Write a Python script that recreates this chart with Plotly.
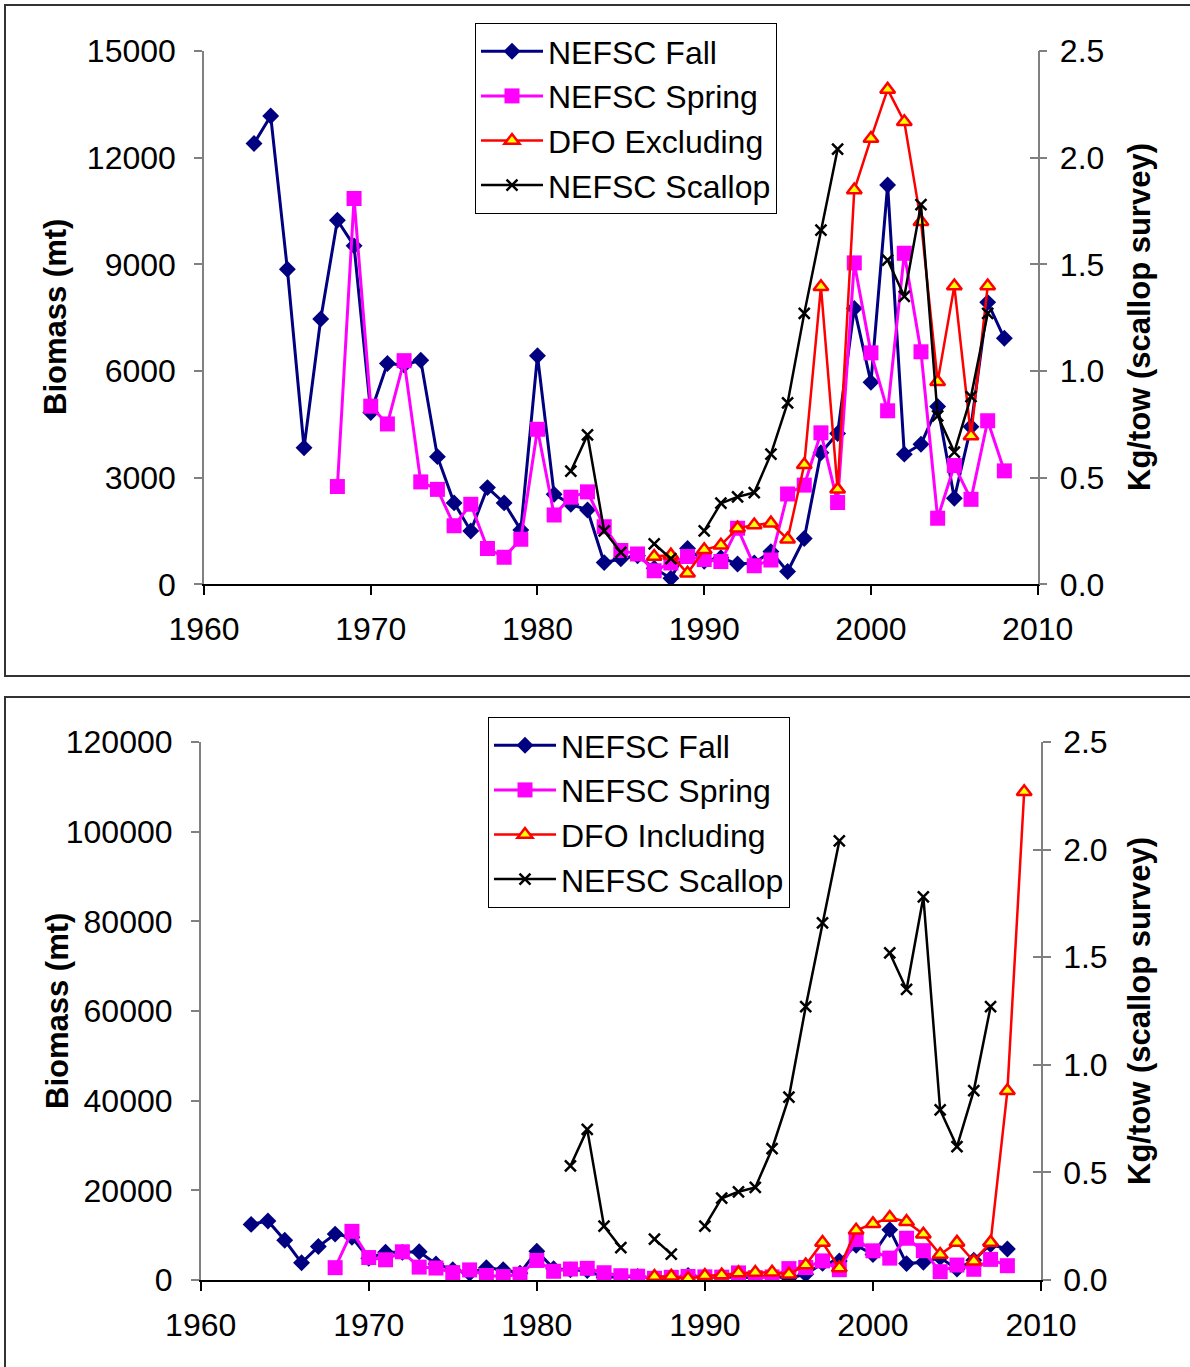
import plotly.graph_objects as go

# ---- survey data -------------------------------------------------------
fall_years = list(range(1963, 2009))
fall_mt = [12400, 13170, 8860, 3840, 7460, 10240, 9520, 4830, 6210, 6170,
           6300, 3590, 2290, 1500, 2720, 2290, 1530, 6430, 2530, 2250,
           2090, 610, 720, 800, 450, 170, 1010, 650, 750, 570,
           600, 920, 360, 1290, 3700, 4240, 7760, 5680, 11230, 3660,
           3940, 5000, 2420, 4430, 7930, 6920]

spring_years = list(range(1968, 2009))
spring_mt = [2750, 10850, 5010, 4510, 6290, 2880, 2670, 1650, 2250, 1010,
             760, 1270, 4360, 1950, 2450, 2600, 1620, 950, 850, 380,
             600, 780, 700, 640, 1580, 520, 680, 2540, 2790, 4260,
             2300, 9040, 6510, 4880, 9310, 6540, 1860, 3340, 2390, 4600,
             3190]

dfo_excl_years = list(range(1987, 2008))
dfo_excl_mt = [780, 820, 310, 970, 1100, 1580, 1670, 1720, 1270, 3360,
               8370, 2670, 11090, 12540, 13920, 13010, 10200, 5700, 8390, 4170,
               8390]

dfo_incl_years = list(range(1987, 2010))
dfo_incl_mt = dfo_excl_mt + [42200, 108900]

scallop_years = list(range(1982, 2008))
scallop_kg = [0.53, 0.70, 0.25, 0.15, None, 0.19, 0.12, None, 0.25, 0.38,
              0.41, 0.43, 0.61, 0.85, 1.27, 1.66, 2.04, None, None, 1.52,
              1.35, 1.78, 0.79, 0.62, 0.88, 1.27]

# ---- styling -----------------------------------------------------------
W, H = 1190, 1367
FONT = "Liberation Sans, Arial, sans-serif"
FS = 32
NAVY, MAGENTA, RED, YELLOW = "#000080", "#FF00FF", "#FF0000", "#FFFF00"
GREY = "#808080"


def px(x):
    return x / W


def py(y):
    return 1 - y / H


def add_panel(fig, n, dfo_years, dfo_vals, dfo_name, legend):
    xa = "x" if n == 1 else "x2"
    ya, yb = ("y", "y2") if n == 1 else ("y3", "y4")
    common = dict(xaxis=xa, legend=legend, mode="lines+markers", connectgaps=False)
    fig.add_trace(go.Scatter(x=fall_years, y=fall_mt, name="NEFSC Fall", yaxis=ya,
                             line=dict(color=NAVY, width=3),
                             marker=dict(symbol="diamond", size=13, color=NAVY),
                             **common))
    fig.add_trace(go.Scatter(x=spring_years, y=spring_mt, name="NEFSC Spring", yaxis=ya,
                             line=dict(color=MAGENTA, width=3),
                             marker=dict(symbol="square", size=15, color=MAGENTA),
                             **common))
    fig.add_trace(go.Scatter(x=dfo_years, y=dfo_vals, name=dfo_name, yaxis=ya,
                             line=dict(color=RED, width=2.5),
                             marker=dict(symbol="triangle-up", size=13, color=YELLOW,
                                         line=dict(color=RED, width=2.5)),
                             **common))
    fig.add_trace(go.Scatter(x=scallop_years, y=scallop_kg, name="NEFSC Scallop", yaxis=yb,
                             line=dict(color="black", width=2.5),
                             marker=dict(symbol="x-thin", size=11,
                                         line=dict(color="black", width=2.5)),
                             **common))


fig = go.Figure()
add_panel(fig, 1, dfo_excl_years, dfo_excl_mt, "DFO Excluding", "legend")
add_panel(fig, 2, dfo_incl_years, dfo_incl_mt, "DFO Including", "legend2")

tickfont = dict(family=FONT, size=FS, color="black")

# plot-area pixel boxes: (left, right, top, bottom)
top_box = (204, 1037.7, 51, 584.3)
bot_box = (200.7, 1041, 742, 1280)


def xaxis_cfg(box, anchor):
    return dict(domain=[px(box[0]), px(box[1])], range=[1960, 2010], dtick=10,
                tick0=1960, anchor=anchor, showgrid=False, zeroline=False,
                automargin=False, tickformat="d",
                showline=True, linecolor="black", linewidth=1.5,
                ticks="outside", ticklen=9, tickcolor="black", tickwidth=1.5,
                tickfont=tickfont, ticklabelstandoff=7)


def left_cfg(box, anchor, ymax, dt):
    return dict(domain=[py(box[3]), py(box[2])], range=[0, ymax], dtick=dt,
                tick0=0, anchor=anchor, showgrid=False, zeroline=False,
                automargin=False, tickformat="d",
                showline=True, linecolor=GREY, linewidth=1.5,
                ticks="outside", ticklen=8, tickcolor=GREY, tickwidth=1.5,
                tickfont=tickfont, ticklabelstandoff=12)


def right_cfg(anchor, over, labels=True):
    return dict(range=[0, 2.5], dtick=0.5, tick0=0, tickformat=".1f", anchor=anchor,
                overlaying=over, side="right", showgrid=False, zeroline=False,
                automargin=False,
                showline=labels, linecolor=GREY, linewidth=1.5,
                ticks="outside" if labels else "inside", ticklen=8,
                tickcolor=GREY, tickwidth=1.5, tickfont=tickfont,
                showticklabels=labels, ticklabelstandoff=6)


legend_style = dict(xanchor="left", yanchor="top",
                    bgcolor="white", bordercolor="black", borderwidth=1,
                    font=dict(family=FONT, size=FS, color="black"),
                    itemwidth=62, tracegroupgap=0)

fig.update_layout(
    template="none",
    width=W, height=H,
    margin=dict(l=0, r=0, t=0, b=0, autoexpand=False),
    paper_bgcolor="white", plot_bgcolor="white",
    font=dict(family=FONT, size=FS, color="black"),
    xaxis=xaxis_cfg(top_box, "y"),
    yaxis=left_cfg(top_box, "x", 15000, 3000),
    yaxis2=right_cfg("x", "y"),
    yaxis5=right_cfg("x", "y", labels=False),
    xaxis2=xaxis_cfg(bot_box, "y3"),
    yaxis3=left_cfg(bot_box, "x2", 120000, 20000),
    yaxis4=right_cfg("x2", "y3"),
    yaxis6=right_cfg("x2", "y3", labels=False),
    legend=dict(x=px(475), y=py(23), **legend_style),
    legend2=dict(x=px(488), y=py(717), **legend_style),
    showlegend=True,
)

# dummy axes carry the inner half of the right-hand cross ticks
fig.add_trace(go.Scatter(x=[None], y=[None], xaxis="x", yaxis="y5", showlegend=False,
                         hoverinfo="skip"))
fig.add_trace(go.Scatter(x=[None], y=[None], xaxis="x2", yaxis="y6", showlegend=False,
                         hoverinfo="skip"))

# axis titles
for xc, yc, txt in [(55, 317, "Biomass (mt)"), (57, 1011, "Biomass (mt)"),
                    (1139, 317, "Kg/tow (scallop survey)"),
                    (1139, 1011, "Kg/tow (scallop survey)")]:
    fig.add_annotation(x=px(xc), y=py(yc), xref="paper", yref="paper",
                       text=f"<b>{txt}</b>", textangle=-90, showarrow=False,
                       font=dict(family=FONT, size=31, color="black"),
                       xanchor="center", yanchor="middle")

# panel frames
fig.add_shape(type="rect", xref="paper", yref="paper",
              x0=px(5), x1=px(1200), y0=py(676), y1=py(5),
              line=dict(color="#333333", width=2))
fig.add_shape(type="rect", xref="paper", yref="paper",
              x0=px(5), x1=px(1200), y0=py(1380), y1=py(697),
              line=dict(color="#333333", width=2))

fig.write_html("out.html")
